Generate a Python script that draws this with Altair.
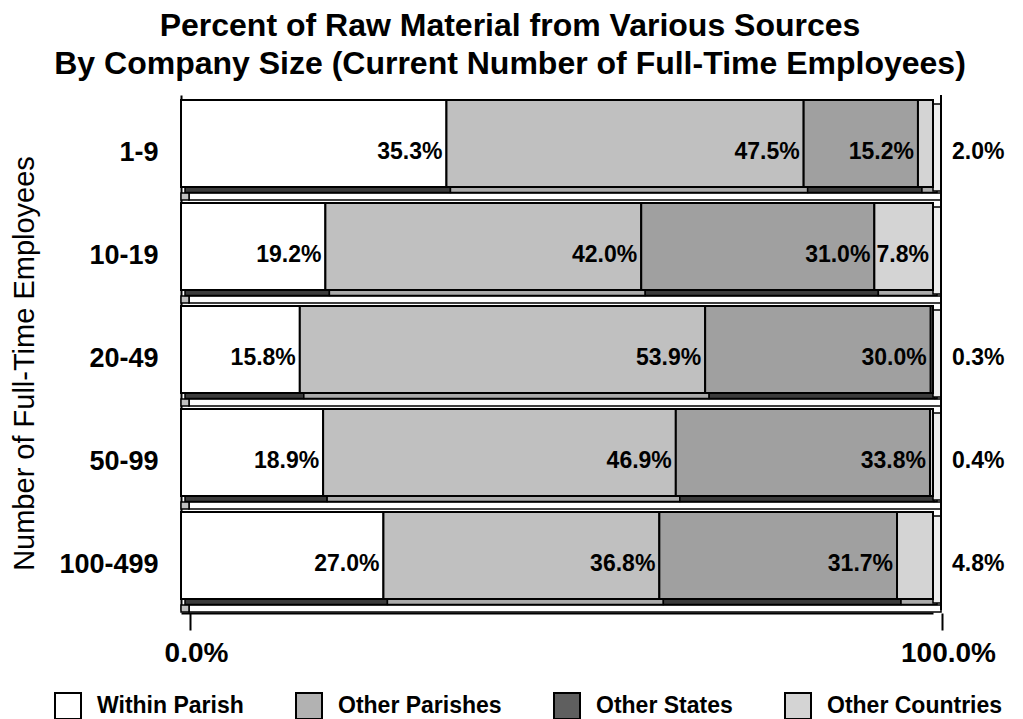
import altair as alt
import pandas as pd

categories = ["1-9", "10-19", "20-49", "50-99", "100-499"]
sources = ["Within Parish", "Other Parishes", "Other States", "Other Countries"]
within_parish = [35.3, 19.2, 15.8, 18.9, 27.0]
other_parishes = [47.5, 42.0, 53.9, 46.9, 36.8]
other_states = [15.2, 31.0, 30.0, 33.8, 31.7]
other_countries = [2.0, 7.8, 0.3, 0.4, 4.8]

front_colors = ["#ffffff", "#c0c0c0", "#a0a0a0", "#d4d4d4"]
strip_colors = ["#3c3c3c", "#ababab", "#3c3c3c", "#ababab"]
legend_colors = ["#ffffff", "#b2b2b2", "#5f5f5f", "#d4d4d4"]

series = [within_parish, other_parishes, other_states, other_countries]
rows = []
for i, cat in enumerate(categories):
    vals = [s[i] for s in series]
    total = sum(vals)
    start = 0.0
    for j, src in enumerate(sources):
        end = start + vals[j] / total
        rows.append({
            "cat": cat, "source": src, "order": j, "value": vals[j],
            "start": start, "end": end,
            "label": f"{vals[j]:.1f}%",
            "front": front_colors[j], "strip": strip_colors[j],
            "hide_x": vals[0] / total / 2,
            "outside": (j == 3 and vals[j] < 5),
        })
        start = end
df = pd.DataFrame(rows)
cats_df = pd.DataFrame({"cat": categories, "lo": [0.0] * 5, "hi": [1.0] * 5})

FONT = "Liberation Sans"
xscale = alt.Scale(domain=[0, 1], nice=False, zero=False)
yscale = alt.Scale(domain=categories, paddingInner=0, paddingOuter=0)

x_axis = alt.Axis(values=[0, 1], format=".1%", title=None, grid=False,
                  labelFontSize=28, labelFontWeight="bold", labelColor="black",
                  domain=True, domainColor="black", domainWidth=2, offset=3,
                  tickSize=17, tickColor="black", tickWidth=2, tickOffset=9,
                  labelPadding=9, labelOffset=6, labelFlush=False)
y_axis = alt.Axis(title="Number of Full-Time Employees", titleFontSize=29,
                  titleFontWeight="normal", titleColor="black", titlePadding=19,
                  titleY=268,
                  labelFontSize=27, labelFontWeight="bold", labelColor="black",
                  ticks=False, labelPadding=23, labelOffset=6,
                  domain=True, domainColor="black", domainWidth=2)

Y = alt.Y("cat:N", scale=yscale, axis=y_axis, sort=categories)
Yn = alt.Y("cat:N", scale=yscale, sort=categories)

base = alt.Chart(df)

# floor strip below each bar
floor = alt.Chart(cats_df).mark_bar(height=7, yOffset=50, xOffset=8, x2Offset=8,
                                    fill="white", stroke="black", strokeWidth=1.5).encode(
    x=alt.X("lo:Q", scale=xscale, axis=x_axis), x2="hi:Q", y=Y)
floor_side = alt.Chart(cats_df).mark_bar(height=7, yOffset=50, x2Offset=8,
                                         fill="#c0c0c0", stroke="black", strokeWidth=1.5).encode(
    x="lo:Q", x2="lo:Q", y=Yn)

# bottom face of each segment
strip = base.mark_bar(height=6, yOffset=43, xOffset=4, x2Offset=4,
                      stroke="black", strokeWidth=1.5).encode(
    x="start:Q", x2="end:Q", y=Yn, fill=alt.Fill("strip:N", scale=None))

# right side face
side = alt.Chart(cats_df).mark_bar(height=87, yOffset=1, x2Offset=8,
                                   fill="#eeeeee", stroke="black", strokeWidth=1.5).encode(
    x="hi:Q", x2="hi:Q", y=Yn)

# helper for the legend (hidden behind the white front faces)
legend_layer = base.mark_square(size=300, stroke="black", strokeWidth=2, opacity=1).encode(
    x="hide_x:Q", y=Yn,
    fill=alt.Fill("source:N", scale=alt.Scale(domain=sources, range=legend_colors),
                  legend=alt.Legend(title=None, orient="none", direction="horizontal",
                                    columns=4, legendX=-127, legendY=597,
                                    symbolType="square", symbolSize=676,
                                    symbolStrokeColor="black", symbolStrokeWidth=2,
                                    labelFontSize=23, labelFontWeight="bold",
                                    labelColor="black", labelOffset=15,
                                    columnPadding=48, padding=0,
                                    labelLimit=400)))

front = base.mark_bar(height=87, yOffset=-3, stroke="black", strokeWidth=2).encode(
    x="start:Q", x2="end:Q", y=Yn, fill=alt.Fill("front:N", scale=None))

labels_in = base.transform_filter("!datum.outside").mark_text(
    align="right", baseline="middle", dx=-4, dy=5, fontSize=23, fontWeight="bold",
    color="black").encode(x="end:Q", y=Yn, text="label:N")
labels_out = base.transform_filter("datum.outside").mark_text(
    align="left", baseline="middle", dx=19, dy=5, fontSize=23, fontWeight="bold",
    color="black").encode(x="end:Q", y=Yn, text="label:N")

right_rule = alt.Chart(cats_df).mark_rule(color="black", strokeWidth=2, xOffset=8).encode(
    x=alt.datum(1))

chart = alt.layer(
    floor, floor_side, strip, side, right_rule, legend_layer, front, labels_in, labels_out
).properties(
    width=752, height=515,
    title=alt.TitleParams(
        text=["Percent of Raw Material from Various Sources",
              "By Company Size (Current Number of Full-Time Employees)"],
        fontSize=32, fontWeight="bold", color="black", anchor="middle",
        dx=-47, offset=13, lineHeight=38),
    autosize=alt.AutoSizeParams(type="none"),
    padding={"left": 173, "top": 87, "right": 82, "bottom": 109},
).configure(font=FONT).configure_view(stroke=None)

chart.save("out.html", embed_options={"renderer": "svg", "actions": False})
